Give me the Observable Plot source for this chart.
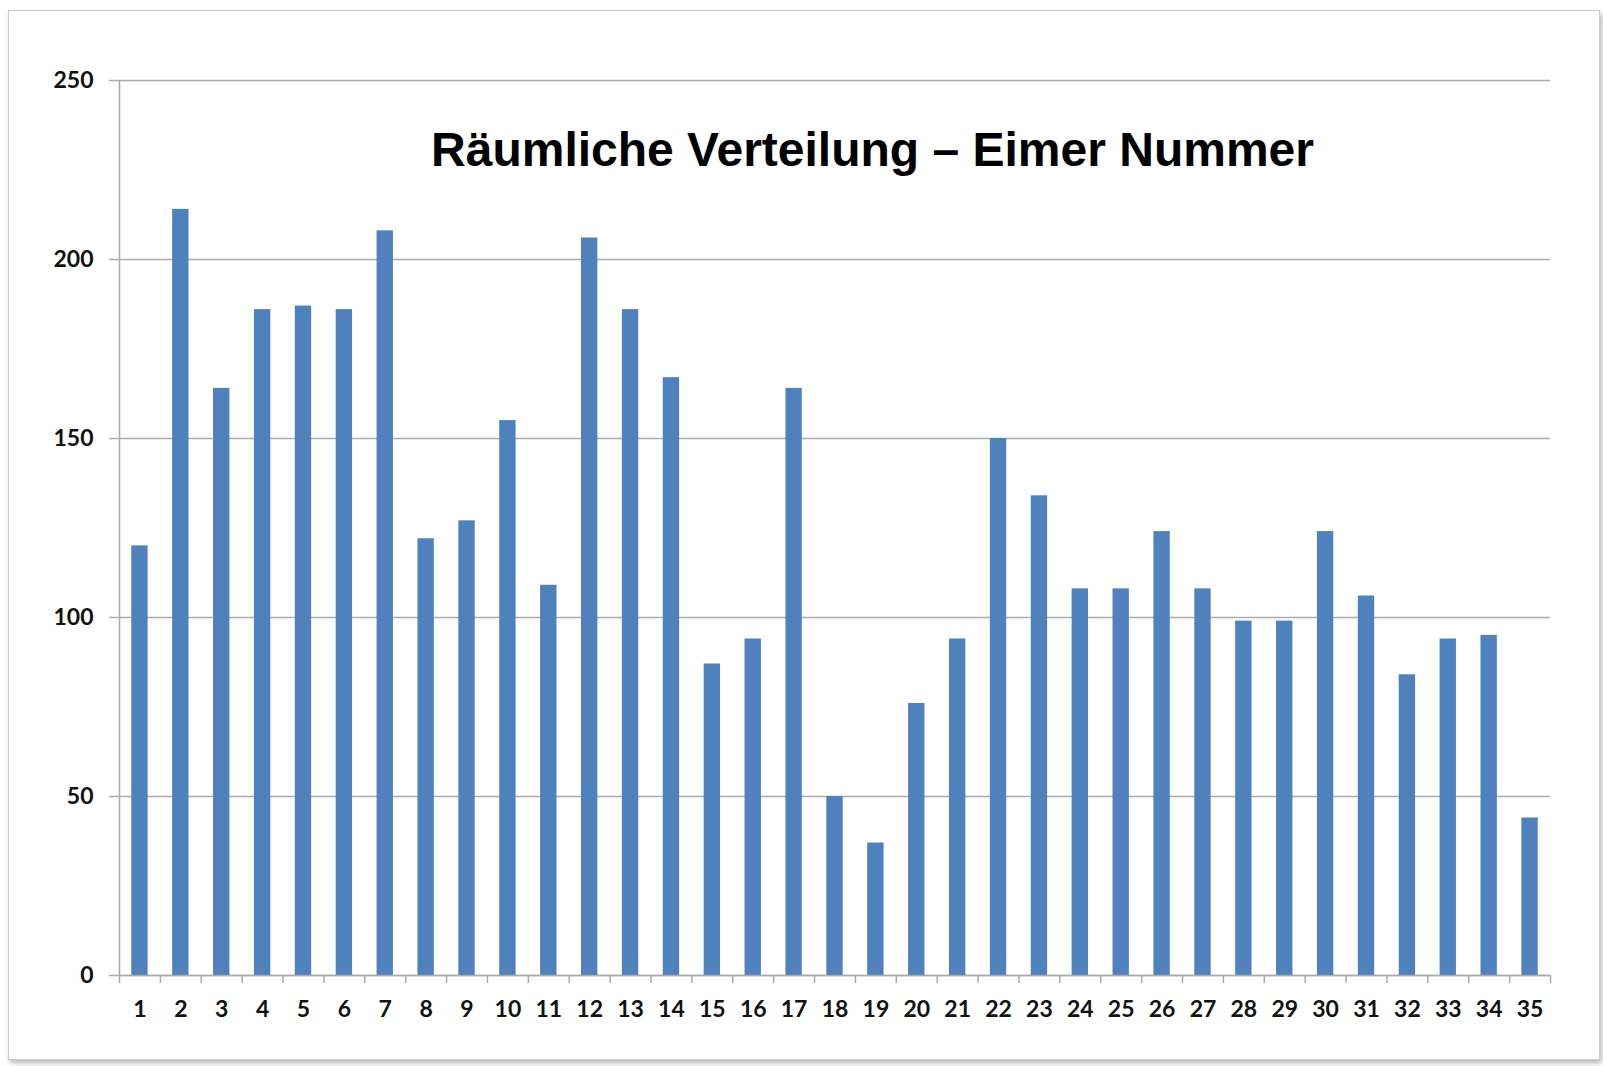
<!DOCTYPE html>
<html>
<head>
<meta charset="utf-8">
<script src="https://cdn.jsdelivr.net/npm/d3@7"></script>
<script src="https://cdn.jsdelivr.net/npm/@observablehq/plot@0.6"></script>
<style>
  html, body { margin: 0; padding: 0; background: #fff; }
  #wrap { position: relative; width: 1603px; height: 1066px; overflow: hidden; background: #fff; }
  #frame { position: absolute; left: 8px; top: 10px; width: 1590px; height: 1048px;
           border: 1px solid #cfcfcf; box-shadow: 2px 3px 5px rgba(0,0,0,0.28); background: #fff; }
  #chart { position: absolute; left: 0; top: 0; }
</style>
</head>
<body>
<div id="wrap"><div id="frame"></div><div id="chart"></div></div>
<script>
const title = "Räumliche Verteilung – Eimer Nummer";
const buckets = ["1","2","3","4","5","6","7","8","9","10","11","12","13","14","15","16","17","18","19","20","21","22","23","24","25","26","27","28","29","30","31","32","33","34","35"];
const counts = [120,214,164,186,187,186,208,122,127,155,109,206,186,167,87,94,164,50,37,76,94,150,134,108,108,124,108,99,99,124,106,84,94,95,44];
const yTicks = [0, 50, 100, 150, 200, 250];

const data = buckets.map((b, i) => ({bucket: b, count: counts[i]}));

const W = 1603, H = 1066;
const mL = 119, mR = 53, mT = 80, mB = 91;
const step = (W - mL - mR) / buckets.length;
const gridColor = "#ababab";
const labelFont = "Lato, 'Open Sans', sans-serif";

const chart = Plot.plot({
  width: W,
  height: H,
  marginLeft: mL,
  marginRight: mR,
  marginTop: mT,
  marginBottom: mB,
  style: {background: "transparent", fontFamily: labelFont},
  x: {domain: buckets, paddingInner: 0.6, paddingOuter: 0.3, align: 0.5},
  y: {domain: [0, 250]},
  marks: [
    Plot.gridY(yTicks, {stroke: gridColor, strokeOpacity: 1, strokeWidth: 1.5}),
    Plot.ruleX(buckets.slice(0, 1), {x: d => d, dx: -step / 2, stroke: gridColor, strokeWidth: 1.5}),
    Plot.barY(data, {x: "bucket", y: "count", fill: "#4f81bd"}),
    Plot.ruleY([0], {stroke: gridColor, strokeWidth: 1.5}),
    Plot.axisY(yTicks, {
      tickSize: 10, tickPadding: 16, stroke: gridColor, strokeWidth: 1.5,
      fontSize: 23, fontWeight: "bold", fill: "#111", label: null
    }),
    Plot.axisX({tickSize: 0, tickPadding: 25, fontSize: 23, fontWeight: "bold", fill: "#111", label: null}),
    Plot.ruleX(buckets, {x: d => d, dx: -step / 2, insetTop: H - mT - mB, insetBottom: -8, stroke: gridColor, strokeWidth: 1.5}),
    Plot.ruleX(buckets.slice(-1), {x: d => d, dx: step / 2, insetTop: H - mT - mB, insetBottom: -8, stroke: gridColor, strokeWidth: 1.5}),
    Plot.text([title], {
      frameAnchor: "top", dx: 872 - (mL + (W - mL - mR) / 2), dy: 51, lineAnchor: "top",
      fontSize: 48, fontWeight: "bold", fill: "#000",
      fontFamily: "'Liberation Sans', Arial, sans-serif"
    })
  ]
});
document.getElementById("chart").appendChild(chart);
</script>
</body>
</html>
